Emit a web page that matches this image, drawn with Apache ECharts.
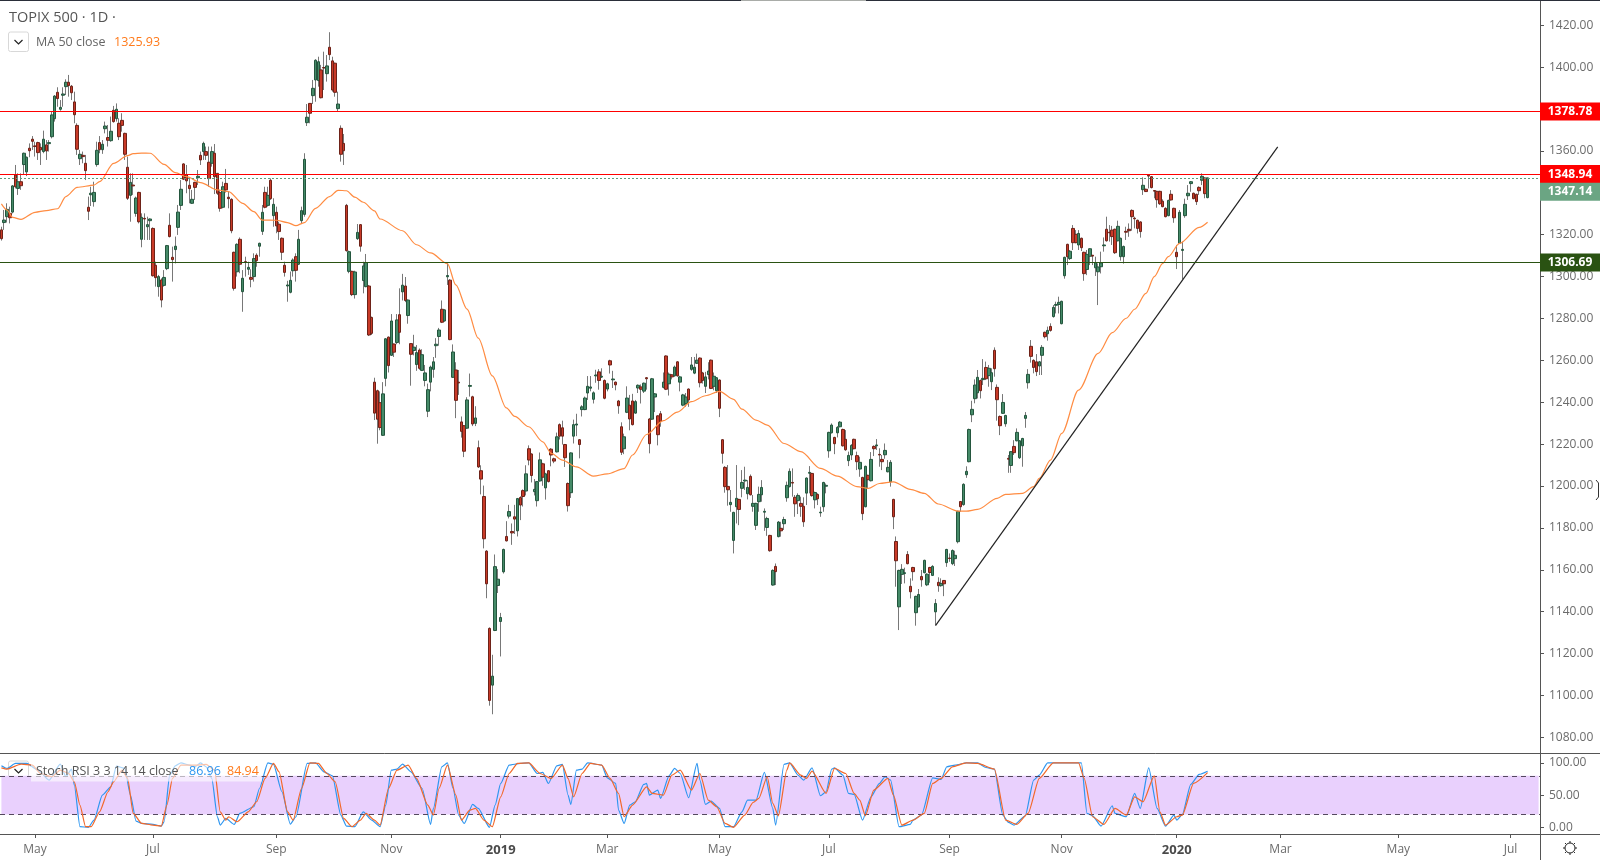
<!DOCTYPE html>
<html>
<head>
<meta charset="utf-8">
<title>TOPIX 500</title>
<script src="https://cdn.jsdelivr.net/npm/echarts@6/dist/echarts.min.js"></script>
<style>
html,body{margin:0;padding:0;background:#fff}
#chart{width:1600px;height:860px}
</style>
</head>
<body>
<div id="chart"></div>
<script>
// daily bars
var opens = [
1322.3,1325.8,1328.6,1330.2,1330.8,1348.5,1342.1,1345.3,1353.5,1350.0,
1361.3,1365.6,1362.4,1364.0,1361.7,1359.7,1362.9,1363.5,1366.8,1375.4,
1388.0,1379.9,1386.6,1390.7,1392.8,1390.9,1383.4,1372.2,1356.3,1357.9,
1354.1,1333.1,1339.1,1335.8,1353.5,1364.0,1360.6,1370.6,1366.4,1364.9,
1379.4,1375.4,1373.2,1374.6,1368.4,1352.2,1338.8,1343.7,1330.2,1340.2,
1317.8,1327.8,1323.8,1326.7,1323.0,1305.4,1295.2,1298.4,1295.8,1303.8,
1324.5,1309.2,1312.9,1323.5,1334.0,1353.8,1348.7,1343.6,1335.0,1345.0,
1347.2,1357.9,1359.7,1359.7,1354.6,1354.1,1358.9,1349.3,1340.1,1333.1,
1344.5,1337.9,1336.9,1311.6,1302.3,1317.8,1292.8,1307.1,1303.5,1299.6,
1300.0,1310.2,1314.5,1321.6,1340.2,1334.0,1346.0,1329.1,1330.7,1325.0,
1318.3,1305.4,1295.5,1292.5,1302.8,1309.5,1305.9,1326.7,1329.7,1373.5,
1382.7,1386.4,1393.9,1393.6,1398.7,1399.8,1396.9,1409.5,1403.0,1401.9,
1380.2,1370.8,1363.6,1334.0,1302.5,1302.5,1291.4,1318.1,1324.8,1298.1,
1295.2,1295.5,1280.5,1249.6,1245.5,1239.8,1224.2,1251.4,1271.1,1262.4,
1267.8,1268.5,1281.8,1292.7,1295.5,1281.4,1268.0,1264.7,1258.0,1264.9,
1255.2,1250.4,1235.7,1249.6,1255.7,1267.0,1271.4,1284.4,1278.8,1299.9,
1298.3,1251.9,1255.4,1249.6,1230.6,1228.8,1227.6,1247.6,1242.6,1229.9,
1218.3,1207.3,1195.0,1168.9,1132.0,1104.9,1131.0,1152.5,1135.3,1159.0,
1175.9,1185.6,1178.3,1185.3,1178.6,1194.5,1197.8,1197.6,1217.8,1215.3,
1197.3,1193.0,1202.4,1210.6,1199.1,1207.3,1217.6,1213.0,1216.3,1229.3,
1227.8,1219.8,1201.2,1196.8,1223.8,1229.1,1222.1,1236.5,1236.5,1244.4,
1246.7,1241.4,1252.6,1254.5,1252.0,1250.4,1246.3,1259.8,1250.7,1249.6,
1240.6,1228.3,1217.8,1235.2,1238.6,1240.6,1234.8,1246.8,1247.3,1245.3,
1251.7,1232.0,1231.9,1242.5,1233.5,1234.5,1247.1,1262.1,1248.8,1253.1,
1252.6,1259.3,1249.6,1238.6,1239.4,1246.3,1255.7,1253.9,1258.6,1261.1,
1254.0,1247.6,1253.2,1260.1,1247.6,1245.5,1250.6,1222.1,1208.9,1199.8,
1191.1,1174.0,1190.1,1193.6,1198.9,1202.4,1196.3,1204.6,1190.3,1181.2,
1192.5,1195.8,1187.5,1180.2,1176.4,1152.7,1161.6,1175.8,1179.8,1182.0,
1194.4,1199.7,1201.7,1194.6,1193.0,1191.7,1190.3,1196.6,1206.1,1206.0,
1193.4,1196.0,1187.2,1190.1,1199.9,1216.8,1225.4,1223.2,1225.4,1228.3,
1227.0,1222.3,1212.1,1214.8,1222.3,1214.5,1208.1,1204.1,1190.1,1205.1,
1202.5,1218.9,1219.2,1215.1,1212.7,1214.9,1206.8,1202.0,1193.6,1173.5,
1142.3,1157.8,1158.2,1167.3,1152.1,1161.1,1139.5,1142.3,1156.8,1158.6,
1152.8,1161.1,1157.3,1139.9,1154.0,1152.4,1154.9,1163.4,1165.6,1162.9,
1165.3,1173.4,1192.6,1191.1,1205.4,1211.6,1234.0,1241.7,1244.5,1250.4,
1250.8,1256.6,1252.7,1249.8,1264.8,1247.1,1233.2,1234.7,1229.7,1213.2,
1209.8,1218.9,1221.6,1213.5,1219.2,1232.3,1249.3,1266.7,1260.0,1259.3,
1257.3,1262.4,1273.4,1272.7,1276.2,1280.9,1286.3,1286.7,1277.5,1300.4,
1315.4,1308.6,1323.0,1320.2,1315.1,1318.3,1311.6,1303.4,1309.7,1310.2,
1304.2,1302.3,1304.7,1314.7,1322.6,1321.2,1322.2,1322.6,1317.1,1309.5,
1309.5,1321.6,1322.6,1331.6,1327.9,1326.9,1326.1,1341.5,1341.7,1348.4,
1347.7,1341.1,1340.7,1340.7,1336.0,1332.6,1329.1,1339.3,1332.6,1311.6,
1315.9,1312.5,1329.1,1338.6,1344.4,1339.8,1339.3,1342.6,1346.0,1347.1,
1337.7
];
var closes = [
1318.1,1327.0,1332.1,1328.1,1343.3,1342.9,1345.3,1343.4,1358.9,1357.0,
1360.1,1364.6,1362.1,1359.2,1360.5,1365.6,1360.0,1364.0,1377.2,1386.2,
1385.0,1380.8,1387.2,1392.8,1391.2,1387.8,1377.3,1360.8,1358.4,1357.3,
1350.6,1331.2,1339.8,1340.2,1360.3,1360.6,1363.2,1371.9,1365.1,1369.4,
1374.0,1379.9,1366.8,1372.2,1358.4,1337.4,1345.0,1343.3,1337.5,1326.2,
1328.3,1327.5,1324.8,1327.5,1300.4,1299.5,1300.0,1288.8,1299.6,1314.8,
1319.1,1308.1,1314.5,1330.8,1341.7,1346.5,1345.7,1342.0,1336.9,1342.6,
1347.9,1355.7,1363.6,1357.9,1346.8,1359.7,1347.7,1339.8,1332.6,1342.9,
1341.4,1337.2,1321.9,1294.4,1315.4,1305.9,1299.2,1307.0,1304.4,1298.7,
1308.6,1307.6,1315.9,1330.7,1333.1,1338.8,1337.2,1334.5,1324.2,1321.5,
1311.6,1302.0,1296.0,1298.2,1307.9,1303.0,1317.8,1331.5,1356.0,1376.1,
1378.0,1389.9,1403.3,1402.6,1385.4,1399.6,1400.6,1406.0,1389.1,1388.0,
1382.4,1358.4,1360.1,1312.4,1311.9,1291.4,1302.2,1321.1,1314.5,1305.1,
1306.7,1272.1,1272.9,1234.8,1231.9,1227.9,1244.0,1270.3,1257.5,1278.8,
1263.9,1279.3,1273.4,1295.9,1288.6,1288.8,1262.9,1266.3,1263.7,1256.2,
1262.7,1254.0,1246.0,1256.8,1259.3,1267.7,1274.5,1278.2,1284.1,1300.5,
1269.9,1264.0,1240.9,1249.2,1226.1,1216.6,1241.1,1248.0,1229.6,1232.5,
1209.1,1203.3,1174.8,1153.3,1097.6,1109.2,1161.5,1155.5,1137.2,1169.7,
1173.8,1187.8,1177.6,1184.2,1194.0,1190.9,1195.0,1205.8,1212.4,1205.0,
1198.4,1202.1,1212.5,1204.2,1205.8,1202.1,1214.8,1211.9,1223.5,1223.8,
1223.8,1213.5,1190.6,1215.8,1229.3,1229.6,1219.8,1237.8,1242.0,1247.6,
1247.3,1244.5,1253.0,1250.4,1252.4,1241.9,1248.8,1257.8,1251.1,1248.3,
1238.3,1216.1,1223.5,1242.0,1232.0,1229.3,1240.3,1248.1,1246.2,1249.1,
1251.2,1220.2,1251.2,1244.0,1224.5,1230.9,1249.6,1246.2,1253.4,1252.1,
1256.8,1252.6,1252.1,1243.5,1242.5,1241.1,1257.8,1256.7,1260.1,1249.3,
1250.4,1252.1,1254.9,1246.6,1252.4,1251.7,1237.1,1215.6,1199.7,1198.2,
1192.2,1187.4,1194.1,1188.8,1201.7,1202.8,1199.3,1195.8,1191.7,1191.7,
1196.0,1199.3,1187.9,1184.5,1169.1,1159.7,1159.1,1182.8,1178.6,1184.0,
1200.3,1207.0,1201.4,1191.5,1195.5,1190.3,1182.9,1203.8,1206.5,1195.4,
1196.9,1193.9,1187.5,1201.7,1200.3,1225.6,1229.1,1220.2,1228.0,1230.5,
1219.2,1217.3,1214.6,1219.4,1217.8,1211.6,1211.3,1186.8,1209.4,1203.0,
1212.7,1217.8,1219.6,1214.8,1211.6,1217.0,1208.9,1211.3,1185.3,1164.3,
1159.7,1160.2,1158.6,1162.9,1149.5,1159.1,1147.3,1148.2,1155.2,1164.5,
1157.9,1158.7,1161.6,1143.9,1152.4,1153.5,1153.3,1169.7,1165.4,1169.2,
1166.9,1187.9,1190.1,1200.8,1207.0,1227.0,1236.6,1248.2,1251.9,1245.5,
1251.4,1251.2,1256.2,1254.1,1256.0,1241.2,1228.8,1239.9,1233.7,1212.8,
1216.4,1215.9,1225.6,1221.6,1222.7,1233.7,1253.3,1261.9,1256.6,1254.6,
1259.3,1266.2,1271.3,1274.3,1274.3,1285.3,1286.7,1287.7,1288.2,1309.2,
1309.5,1312.1,1316.2,1316.2,1320.6,1313.8,1301.4,1310.6,1313.3,1309.8,
1306.6,1304.6,1306.5,1315.1,1317.1,1320.9,1319.1,1311.4,1324.0,1318.3,
1314.4,1321.2,1321.9,1328.6,1327.6,1323.0,1321.5,1343.6,1340.6,1348.0,
1342.5,1340.8,1336.7,1334.8,1333.4,1328.6,1336.4,1336.6,1328.1,1309.5,
1330.7,1313.0,1334.5,1339.8,1345.3,1337.2,1335.8,1341.0,1347.9,1339.6,
1347.14
];
var lows = [
1317.2,1322.3,1325.8,1325.4,1330.2,1342.1,1339.0,1341.4,1348.5,1348.0,
1357.0,1360.5,1357.3,1355.7,1353.3,1358.9,1355.7,1359.7,1366.0,1374.0,
1381.1,1379.2,1381.1,1386.7,1385.9,1384.3,1373.2,1358.1,1353.3,1354.1,
1346.1,1327.0,1333.7,1333.4,1352.5,1358.9,1358.6,1368.4,1362.1,1364.4,
1373.5,1374.0,1365.2,1369.2,1355.7,1336.6,1326.2,1339.0,1328.6,1325.4,
1314.0,1317.5,1317.5,1317.5,1300.0,1295.2,1290.4,1285.3,1295.2,1303.1,
1318.7,1297.6,1306.3,1319.9,1331.8,1346.1,1339.8,1335.0,1334.7,1336.6,
1343.7,1353.3,1355.7,1355.7,1342.9,1352.5,1339.4,1339.0,1331.0,1332.6,
1340.1,1332.6,1320.7,1293.3,1300.0,1301.6,1283.2,1300.0,1300.8,1294.9,
1297.6,1304.7,1309.5,1319.9,1332.6,1333.4,1336.6,1323.8,1320.7,1317.5,
1307.9,1300.0,1288.0,1292.0,1300.0,1297.6,1305.5,1325.4,1328.6,1371.9,
1373.2,1382.4,1383.5,1390.7,1385.1,1389.1,1393.1,1403.4,1388.3,1385.9,
1378.8,1354.9,1353.3,1311.9,1301.6,1290.7,1289.5,1317.5,1311.9,1292.0,
1294.9,1271.6,1272.1,1231.5,1220.2,1226.6,1223.9,1247.6,1254.2,1262.1,
1261.6,1267.7,1267.7,1288.6,1287.8,1277.5,1247.9,1262.4,1255.0,1255.5,
1254.9,1247.6,1232.9,1245.2,1251.7,1261.2,1267.0,1277.8,1278.5,1296.0,
1269.6,1251.6,1232.4,1243.5,1223.1,1213.8,1227.3,1242.7,1228.6,1228.6,
1208.6,1196.0,1170.2,1146.4,1095.1,1091.0,1130.7,1148.9,1118.6,1158.2,
1173.5,1184.5,1171.9,1177.1,1175.9,1183.7,1190.2,1195.5,1209.9,1201.7,
1195.5,1190.2,1202.1,1200.1,1193.5,1201.7,1209.4,1210.9,1216.0,1222.2,
1219.8,1209.1,1187.8,1194.3,1220.3,1223.8,1213.2,1233.2,1236.2,1241.1,
1245.2,1239.4,1249.3,1246.0,1251.6,1241.4,1245.2,1253.7,1246.8,1245.7,
1234.5,1214.8,1215.2,1234.8,1226.6,1228.9,1234.5,1244.4,1239.4,1244.4,
1246.0,1215.6,1231.6,1235.3,1219.4,1228.3,1246.6,1245.8,1243.2,1250.9,
1252.2,1252.2,1245.2,1238.1,1237.8,1237.8,1255.0,1253.4,1258.3,1247.1,
1248.9,1244.4,1250.9,1246.3,1245.7,1244.4,1232.9,1210.7,1196.8,1190.6,
1187.7,1167.8,1182.1,1181.3,1194.6,1198.1,1193.6,1195.5,1187.7,1179.0,
1187.7,1192.5,1178.6,1176.2,1168.6,1152.4,1152.7,1175.5,1175.8,1179.0,
1192.5,1199.3,1194.9,1185.3,1186.6,1185.3,1180.5,1190.9,1196.5,1194.9,
1189.3,1190.9,1185.3,1187.7,1196.5,1213.5,1225.1,1215.2,1223.2,1228.0,
1218.8,1216.8,1209.5,1212.4,1217.5,1207.6,1204.4,1183.7,1189.8,1198.9,
1202.2,1214.3,1217.2,1209.2,1207.6,1213.0,1206.5,1199.7,1179.4,1151.9,
1131.2,1153.2,1153.5,1162.6,1146.3,1154.8,1133.3,1142.0,1151.9,1158.3,
1152.2,1153.8,1157.0,1133.6,1149.5,1151.9,1147.4,1161.4,1163.8,1162.2,
1161.8,1172.6,1187.7,1190.6,1203.9,1211.3,1230.5,1239.5,1241.8,1241.8,
1248.2,1250.6,1247.4,1245.8,1252.2,1231.2,1224.3,1234.4,1228.3,1206.3,
1206.3,1214.8,1221.3,1212.9,1209.2,1227.8,1246.5,1258.9,1253.8,1252.5,
1253.0,1253.0,1270.5,1269.4,1273.7,1280.4,1282.4,1282.4,1277.2,1299.0,
1305.5,1307.9,1312.7,1315.9,1312.7,1312.2,1298.0,1300.7,1305.5,1305.5,
1300.3,1286.4,1301.5,1311.9,1316.7,1316.7,1315.1,1310.8,1316.8,1307.6,
1306.2,1317.5,1319.0,1321.9,1323.0,1320.6,1318.6,1339.0,1340.4,1342.1,
1342.1,1337.4,1332.9,1334.2,1333.1,1328.3,1328.8,1336.3,1325.7,1303.6,
1315.6,1298.7,1328.1,1336.6,1340.5,1336.9,1334.2,1339.0,1343.7,1337.4,
1337.4
];
var highs = [
1323.8,1331.8,1335.0,1333.4,1343.7,1353.3,1349.3,1349.3,1359.2,1357.3,
1363.6,1367.1,1364.4,1364.4,1363.6,1369.7,1365.2,1365.2,1378.8,1386.7,
1390.4,1384.3,1390.4,1394.2,1396.3,1391.5,1388.3,1373.2,1360.5,1359.7,
1358.1,1338.2,1342.9,1345.3,1364.4,1367.1,1365.2,1374.0,1372.4,1376.4,
1381.5,1382.7,1375.6,1378.0,1368.7,1357.3,1349.3,1349.3,1338.2,1340.5,
1330.2,1330.2,1328.6,1327.8,1323.5,1307.1,1300.8,1299.2,1303.1,1315.1,
1330.2,1314.3,1319.1,1334.2,1346.1,1354.1,1353.3,1346.9,1341.4,1345.3,
1350.9,1359.7,1364.4,1362.1,1362.1,1362.1,1363.3,1349.3,1341.4,1345.3,
1351.4,1340.5,1337.4,1311.9,1315.9,1318.7,1303.1,1309.5,1307.1,1303.5,
1311.1,1311.1,1316.2,1334.2,1342.9,1342.9,1346.9,1337.4,1333.4,1326.2,
1318.7,1307.1,1298.0,1302.4,1308.7,1311.1,1322.3,1333.4,1358.9,1382.4,
1382.7,1393.9,1403.8,1405.0,1401.1,1407.4,1405.8,1416.7,1405.0,1402.2,
1388.3,1372.2,1368.1,1334.7,1312.4,1302.8,1302.8,1325.1,1325.1,1307.1,
1310.8,1296.0,1280.9,1251.7,1246.0,1245.2,1249.6,1270.6,1271.4,1282.1,
1268.1,1282.1,1294.4,1301.3,1299.8,1289.1,1268.1,1272.2,1267.3,1265.7,
1265.3,1257.8,1248.9,1257.5,1261.6,1270.6,1275.5,1288.6,1284.4,1306.7,
1298.8,1267.6,1259.1,1255.4,1233.2,1229.1,1242.4,1253.7,1243.1,1238.1,
1221.7,1209.9,1200.2,1169.4,1132.5,1119.4,1167.3,1160.4,1139.4,1170.1,
1183.2,1191.0,1182.1,1191.0,1194.3,1195.1,1198.4,1209.9,1219.4,1215.6,
1203.3,1202.4,1216.0,1211.1,1206.3,1207.6,1218.1,1213.5,1225.5,1229.9,
1231.2,1220.1,1201.7,1216.1,1231.7,1234.5,1222.4,1238.6,1242.7,1252.5,
1252.5,1245.2,1255.5,1255.8,1256.2,1250.9,1249.3,1260.3,1255.0,1249.9,
1241.1,1230.4,1225.0,1247.6,1243.5,1244.0,1241.1,1248.5,1248.5,1249.4,
1252.0,1232.5,1251.6,1244.4,1233.8,1235.8,1254.2,1262.4,1254.2,1253.4,
1257.5,1259.6,1252.6,1244.0,1244.4,1246.6,1261.6,1261.6,1263.2,1261.4,
1254.5,1254.5,1259.1,1260.4,1254.2,1252.0,1250.9,1222.4,1209.5,1210.0,
1198.1,1187.7,1210.0,1193.9,1207.6,1209.2,1202.8,1205.5,1195.7,1192.0,
1199.7,1202.8,1189.3,1185.3,1176.7,1160.2,1163.0,1183.3,1182.9,1185.3,
1202.1,1208.4,1208.4,1195.7,1196.5,1194.9,1194.6,1204.1,1209.5,1206.3,
1197.3,1196.5,1190.1,1202.0,1201.2,1225.9,1229.9,1223.5,1228.6,1231.0,
1227.4,1226.7,1216.4,1220.0,1222.6,1216.4,1214.0,1204.4,1209.7,1205.4,
1216.2,1219.4,1222.4,1218.0,1214.8,1220.3,1212.4,1212.4,1193.9,1175.9,
1160.0,1162.7,1161.0,1168.9,1155.9,1161.4,1147.6,1150.8,1159.9,1164.8,
1158.3,1161.4,1162.2,1146.0,1156.4,1155.9,1155.1,1170.0,1167.8,1169.7,
1169.1,1188.2,1192.8,1201.3,1209.4,1227.4,1240.7,1250.9,1255.4,1250.8,
1260.6,1259.4,1257.8,1256.2,1266.2,1248.5,1233.7,1243.9,1234.0,1214.8,
1216.7,1221.9,1227.5,1221.9,1223.0,1235.3,1255.8,1269.7,1260.5,1263.0,
1259.7,1267.3,1273.7,1276.1,1277.7,1286.4,1288.0,1290.4,1288.5,1309.5,
1315.7,1312.7,1324.6,1322.2,1322.2,1318.6,1311.9,1312.7,1313.5,1310.3,
1309.5,1306.3,1311.9,1318.7,1328.6,1324.6,1324.2,1322.9,1326.7,1318.6,
1314.8,1323.8,1325.4,1332.1,1328.6,1327.2,1326.4,1347.4,1342.0,1348.7,
1348.0,1341.3,1341.0,1341.0,1336.9,1333.1,1336.7,1341.3,1332.9,1315.1,
1331.8,1316.7,1337.2,1343.7,1345.6,1340.1,1339.6,1343.1,1349.3,1347.4,
1347.2
];

// 50 day average, read at the bends of the line
var maBars = [0,2,4,7,12,16,20,23,27,33,35,40,45,47,50,53,58,62,66,71,77,81,86,90,93,98,102,105,108,112,117,120,123,126,129,133,135,143,148,153,159,162,166,170,175,180,183,188,193,196,200,205,211,216,222,225,230,236,241,246,251,256,261,264,269,273,279,285,292,298,305,309,313,318,324,329,334,341,344,348,355,358,364,368,370,374,378,384,391,396,401,404,408,411,414,416,420,427,430];
var maValues = [1334.7,1331.8,1328.3,1327.3,1330.7,1331.5,1332.4,1338.2,1342.6,1343.7,1345.3,1354.1,1357.8,1358.7,1359.0,1358.9,1353.6,1349.6,1347.7,1344.9,1341.4,1340.6,1335.0,1331.0,1327.0,1326.9,1325.8,1324.3,1325.8,1332.6,1338.2,1341.2,1341.0,1337.9,1335.5,1331.4,1327.5,1321.9,1315.2,1311.3,1306.2,1296.0,1284.5,1270.6,1252.6,1237.3,1233.2,1228.3,1221.1,1215.6,1212.4,1209.1,1204.7,1205.8,1208.3,1214.8,1224.6,1231.2,1235.3,1240.3,1243.1,1245.2,1241.4,1236.7,1231.5,1229.1,1220.3,1216.4,1208.4,1204.7,1199.7,1198.9,1201.2,1202.0,1198.4,1196.5,1191.4,1188.0,1188.0,1188.8,1194.1,1196.0,1196.5,1199.7,1203.6,1212.4,1225.1,1245.8,1263.3,1273.2,1280.1,1284.4,1292.0,1300.0,1306.3,1309.5,1315.9,1323.5,1325.93];

// stoch rsi, read at the bends of each line
var kBars = [0,2,5,9,13,17,21,23,25,26,28,31,33,36,39,41,44,46,48,50,54,57,58,60,62,64,67,69,71,73,75,77,78,80,83,85,90,92,95,97,100,103,105,109,112,115,118,121,123,126,129,132,135,137,139,141,143,146,150,153,154,157,159,161,163,165,168,170,174,176,178,181,185,188,191,193,195,198,200,202,203,205,207,209,214,216,219,220,222,224,226,229,230,231,234,235,238,240,242,245,248,249,251,253,256,258,261,264,266,269,272,275,276,279,281,284,286,289,292,294,296,297,300,302,304,307,310,313,315,317,320,324,325,328,332,335,337,340,344,348,351,354,357,359,361,365,368,370,373,385,387,389,392,396,397,401,404,406,409,412,415,418,419,421,424,427,430];
var kValues = [95.5,91.4,99.2,99.2,88.8,73.3,98.1,78.5,90.4,65.5,0.9,0,11.2,50,62.9,95,91.4,50,9.7,6,4.5,1.9,8.6,81,95.5,100,96.6,94,100,94,75.9,16.4,3.4,13.8,4.5,21.6,31.9,60.3,100,97.6,55.2,5,16.4,99.2,100,86.2,80,19,1.9,0.9,24.1,11.2,0.9,34.5,88.8,90.4,98.1,86.2,60.3,4.5,29.3,94,100,60.3,19,6,35.5,29.3,0,34.5,68.1,96.6,99.2,100,83.6,85.2,68.1,95.5,97.6,50,35.5,88.8,90.4,100,96.6,76.9,68.1,26.7,6,34.5,39.7,66.6,68.1,50,57.8,44.8,80,91.4,83.6,45.9,99.2,73.3,35.5,40.7,29.3,0.9,0.9,24.1,42.2,42.2,85.2,29.3,3.4,97.6,100,81,73.3,92.4,49,55.2,90.4,92.4,81,52.6,51,11.2,47.4,68.1,78.5,73.3,0.9,4.5,11.2,19,76.9,74.3,94,96.6,100,100,92.9,90.4,19,7.6,3.4,17.9,73.3,81,100,100,21.6,17.9,1.9,33.5,21.6,16.4,52.6,29.3,92.4,29.3,1.9,19,11.2,20,66.6,82.1,86.96];
var dBars = [0,2,7,11,14,18,21,24,26,28,30,32,35,38,40,43,45,47,50,54,57,59,61,64,69,73,76,78,80,81,84,88,91,94,97,99,102,104,107,110,113,116,119,122,125,128,130,133,135,138,141,145,148,152,154,156,159,162,164,167,169,172,175,178,181,184,188,192,196,200,202,204,207,210,214,217,220,222,225,230,232,236,239,242,246,249,252,255,258,261,265,268,270,273,275,277,280,281,285,287,289,294,297,301,304,306,308,311,316,318,321,325,329,332,335,339,344,348,354,358,362,366,370,375,384,386,389,393,397,401,404,407,411,413,415,419,421,425,430];
var dValues = [92.4,90.4,98.1,96.6,83.6,78.5,88.8,83.6,70.7,34.5,0.9,0.9,24.1,55.2,70.7,88.8,75.9,21.6,6,3.4,1.9,34.5,75.9,96.6,96.6,97.6,88.8,24.1,11.2,16.4,8.6,24.1,39.7,75.9,99.2,86.2,24.1,11.2,60.3,100,99.2,83.6,70.7,13.8,0.9,11.2,21.6,11.2,3.4,60.3,88.8,96.6,75.9,34.5,19,60.3,96.6,50,11.2,26.7,29.3,11.2,0.9,47.4,83.6,99.2,100,83.6,75.9,96.6,75.9,47.4,83.6,99.2,96.6,75.9,52.6,16.4,34.5,62.9,52.6,50,81,88.8,57.8,83.6,42.2,31.9,6,0,19,38.6,44.8,78.5,37.1,17.9,88.8,100,81,75.9,87.2,52.6,91.4,83.6,52.6,42.2,17.9,57.8,75.9,50,3.4,11.2,21.6,68.1,75.9,94,100,99.2,90.4,11.2,4.5,21.6,75.9,100,100,75.9,16.4,4.5,29.3,19,47.4,39.7,80,24.1,3.4,16.4,19,68.1,84.94];

// price levels drawn on the chart
var levelValues = [1378.78, 1348.94, 1306.69];
var levelColors = ['#ff0000', '#ff0000', '#2a5212'];
var lastClose = 1347.14;

// the drawn trend line, its two anchors
var trendBars = [333, 455];
var trendValues = [1133.3, 1361.9];

// time axis
var barCount = 549;
var monthBars = [12,54,98,139,178,216,256,295,338,378,419,456,498,538];
var monthNames = ['May','Jul','Sep','Nov','2019','Mar','May','Jul','Sep','Nov','2020','Mar','May','Jul'];

var priceTicks = [1080,1100,1120,1140,1160,1180,1200,1220,1240,1260,1280,1300,1320,1340,1360,1380,1400,1420];
var stochTicks = [0,50,100];

var fontName = 'Open Sans, sans-serif';
var textGrey = '#6b6b6b';

var categories = [];
for (var i = 0; i < barCount; i++) categories.push(String(i));

function monthName(index) {
    var at = monthBars.indexOf(Number(index));
    return at < 0 ? '' : monthNames[at];
}
function isMonth(index) {
    return monthBars.indexOf(Number(index)) >= 0;
}
function pairs(xs, ys) {
    return xs.map(function (x, n) { return [x, ys[n]]; });
}
function levelLabel(value, color, dy) {
    return {
        show: true, position: 'end', distance: 0, formatter: value.toFixed(2), offset: [30, dy],
        color: '#fff', backgroundColor: color, fontFamily: fontName,
        fontSize: 12, fontWeight: 'bold', width: 60, height: 18, lineHeight: 18, align: 'center'
    };
}

// grey wicks go under the bodies, one series can only have one border colour
var wickData = opens.map(function (o, n) { return [o, closes[n], lows[n], highs[n]]; });
var bodyData = opens.map(function (o, n) {
    return [o, closes[n], Math.min(o, closes[n]), Math.max(o, closes[n])];
});

var levelLines = levelValues.map(function (v, n) {
    return {
        yAxis: v,
        lineStyle: {color: levelColors[n], width: 1, type: 'solid'},
        label: levelLabel(v, levelColors[n], 0)
    };
});
levelLines.push({
    yAxis: lastClose,
    lineStyle: {color: '#5d9c7c', width: 1, type: [2, 2]},
    label: levelLabel(lastClose, '#6ba583', 14)
});

var legendButtons = [[8.5, 32], [8.5, 761]].map(function (p) {
    return {
        type: 'group', x: p[0], y: p[1], z: 20, children: [
            {type: 'rect', shape: {x: 0, y: 0, width: 20, height: 19.5, r: 2}, style: {fill: '#fff', stroke: '#d8d8d8', lineWidth: 1}},
            {type: 'polyline', shape: {points: [[6, 8], [10, 12], [14, 8]]}, style: {fill: null, stroke: '#222', lineWidth: 1.2}}
        ]
    };
});

var gearTeeth = [];
for (var t = 0; t < 8; t++) {
    var a = t * Math.PI / 4;
    gearTeeth.push({
        type: 'line',
        shape: {x1: 5 * Math.cos(a), y1: 5 * Math.sin(a), x2: 7 * Math.cos(a), y2: 7 * Math.sin(a)},
        style: {stroke: '#222', lineWidth: 1}
    });
}
gearTeeth.push({type: 'circle', shape: {cx: 0, cy: 0, r: 5}, style: {fill: '#fff', stroke: '#222', lineWidth: 1}});

var chart = echarts.init(document.getElementById('chart'));
var option = {
    animation: false,
    backgroundColor: '#fff',
    grid: [
        {left: 0, top: 1, width: 1540, height: 752, containLabel: false},
        {left: 0, top: 753, width: 1540, height: 81, containLabel: false}
    ],
    xAxis: [
        {
            type: 'category', gridIndex: 0, data: categories, boundaryGap: true,
            axisLine: {show: true, onZero: false, lineStyle: {color: '#555', width: 1}},
            axisTick: {show: false}, axisLabel: {show: false}, splitLine: {show: false}
        },
        {
            type: 'category', gridIndex: 1, data: categories, boundaryGap: true,
            axisLine: {show: true, onZero: false, lineStyle: {color: '#555', width: 1}},
            axisTick: {show: true, alignWithLabel: true, length: 4, interval: isMonth, lineStyle: {color: '#555'}},
            axisLabel: {
                show: true, interval: isMonth, margin: 10, color: textGrey, fontFamily: fontName, fontSize: 12,
                formatter: function (v) {
                    var name = monthName(v);
                    return name.length === 4 ? '{year|' + name + '}' : name;
                },
                rich: {year: {color: '#4a4a4a', fontFamily: fontName, fontSize: 13, fontWeight: 'bold'}}
            },
            splitLine: {show: false}
        }
    ],
    yAxis: [
        {
            type: 'value', gridIndex: 0, position: 'right', min: 1072.5, max: 1431.6, scale: true,
            axisLine: {show: true, onZero: false, lineStyle: {color: '#555', width: 1}},
            axisTick: {show: true, length: 4, customValues: priceTicks, lineStyle: {color: '#555'}},
            axisLabel: {
                show: true, margin: 9, color: textGrey, fontFamily: fontName, fontSize: 12, customValues: priceTicks,
                showMinLabel: true, showMaxLabel: true, padding: [2, 0, 0, 0],
                formatter: function (v) { return v.toFixed(2); }
            },
            splitLine: {show: false}
        },
        {
            type: 'value', gridIndex: 1, position: 'right', min: -10.4, max: 115.4,
            axisLine: {show: true, onZero: false, lineStyle: {color: '#555', width: 1}},
            axisTick: {show: true, length: 4, customValues: stochTicks, lineStyle: {color: '#555'}},
            axisLabel: {
                show: true, margin: 9, color: textGrey, fontFamily: fontName, fontSize: 12, customValues: stochTicks,
                padding: [2, 0, 0, 0],
                formatter: function (v) { return v.toFixed(2); }
            },
            splitLine: {show: false}
        }
    ],
    series: [
        {
            name: 'wicks', type: 'candlestick', xAxisIndex: 0, yAxisIndex: 0, data: wickData, barWidth: 1,
            itemStyle: {color: '#787878', color0: '#787878', borderColor: '#787878', borderColor0: '#787878', borderWidth: 1},
            silent: true
        },
        {
            name: 'TOPIX 500', type: 'candlestick', xAxisIndex: 0, yAxisIndex: 0, data: bodyData, barWidth: 3,
            itemStyle: {color: '#458a68', color0: '#c83a28', borderColor: '#24563e', borderColor0: '#6e2218', borderWidth: 1},
            markLine: {silent: true, symbol: 'none', precision: 2, animation: false, data: levelLines}
        },
        {
            name: 'MA 50 close', type: 'line', xAxisIndex: 0, yAxisIndex: 0, data: pairs(maBars, maValues),
            showSymbol: false, smooth: 0.3, smoothMonotone: 'x', lineStyle: {color: '#ff8c42', width: 1.2}, silent: true, z: 4
        },
        {
            name: 'trend', type: 'line', xAxisIndex: 0, yAxisIndex: 0, data: pairs(trendBars, trendValues),
            showSymbol: false, lineStyle: {color: '#222', width: 1.2}, silent: true, z: 4
        },
        {
            name: 'K', type: 'line', xAxisIndex: 1, yAxisIndex: 1, data: pairs(kBars, kValues),
            showSymbol: false, smooth: 0.2, smoothMonotone: 'x', lineStyle: {color: '#2e96f0', width: 1.2}, silent: true, z: 4,
            markArea: {
                silent: true, itemStyle: {color: '#e9d0fd', opacity: 1},
                data: [[{yAxis: 20, xAxis: 0}, {yAxis: 80, xAxis: barCount - 1}]]
            },
            markLine: {
                silent: true, symbol: 'none', animation: false,
                lineStyle: {color: '#54485e', width: 1, type: [5, 4]},
                label: {show: false},
                data: [{yAxis: 20}, {yAxis: 80}]
            }
        },
        {
            name: 'D', type: 'line', xAxisIndex: 1, yAxisIndex: 1, data: pairs(dBars, dValues),
            showSymbol: false, smooth: 0.2, smoothMonotone: 'x', lineStyle: {color: '#f2682a', width: 1.2}, silent: true, z: 5
        }
    ],
    graphic: [
        {type: 'rect', x: 0, y: 0, z: 20, shape: {width: 1600, height: 1}, style: {fill: '#2a2e39'}},
        {type: 'rect', x: 741, y: 0, z: 21, shape: {width: 125, height: 1}, style: {fill: '#a9aca8'}},
        {type: 'text', x: 9, y: 18, z: 20, style: {text: 'TOPIX 500 · 1D ·', fill: '#555', font: '14.5px ' + fontName, textVerticalAlign: 'middle'}},
        {type: 'text', x: 36, y: 42, z: 20, style: {text: 'MA 50 close', fill: '#666', font: '12.5px ' + fontName, textVerticalAlign: 'middle'}},
        {type: 'text', x: 114, y: 42, z: 20, style: {text: '1325.93', fill: '#ff7a1a', font: '12.5px ' + fontName, textVerticalAlign: 'middle'}},
        {type: 'rect', x: 31, y: 762, z: 19, shape: {width: 231, height: 19.5}, style: {fill: 'rgba(255,255,255,0.6)'}},
        {type: 'text', x: 36, y: 771, z: 20, style: {text: 'Stoch RSI 3 3 14 14 close', fill: '#555', font: '12.5px ' + fontName, textVerticalAlign: 'middle'}},
        {type: 'text', x: 189, y: 771, z: 20, style: {text: '86.96', fill: '#2e96f0', font: '12.5px ' + fontName, textVerticalAlign: 'middle'}},
        {type: 'text', x: 227, y: 771, z: 20, style: {text: '84.94', fill: '#ff7a1a', font: '12.5px ' + fontName, textVerticalAlign: 'middle'}},
        {type: 'line', z: 20, shape: {x1: 1540, y1: 753.5, x2: 1600, y2: 753.5}, style: {stroke: '#555', lineWidth: 1}},
        {type: 'line', z: 20, shape: {x1: 1540.5, y1: 834, x2: 1540.5, y2: 860}, style: {stroke: '#555', lineWidth: 1}},
        {type: 'line', z: 20, shape: {x1: 1540, y1: 834.5, x2: 1600, y2: 834.5}, style: {stroke: '#555', lineWidth: 1}},
        {type: 'polyline', z: 20, shape: {points: [[1596, 480], [1598.5, 483], [1598.5, 497], [1596, 500]]}, style: {fill: null, stroke: '#333', lineWidth: 1}},
        {type: 'group', x: 1570, y: 848, z: 20, children: gearTeeth}
    ].concat(legendButtons)
};
chart.setOption(option);
</script>
</body>
</html>
